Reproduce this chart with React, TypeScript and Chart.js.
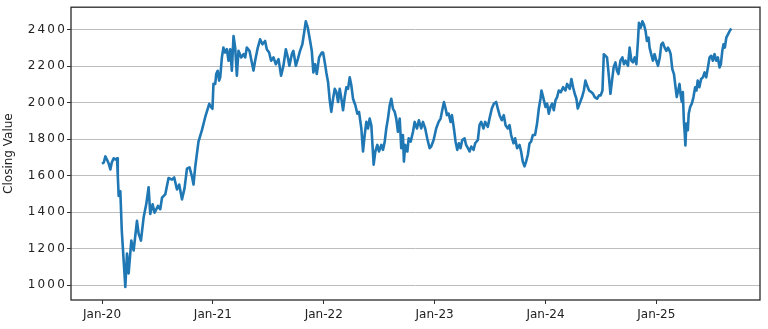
import React, { useEffect, useRef } from 'react';
import { Chart, registerables } from 'chart.js';

Chart.register(...registerables);

// Time position in years since 1 Jan 2020
const yearsSince2020 = [
  0.000, 0.016, 0.030, 0.044, 0.059, 0.075, 0.088, 0.105, 0.120, 0.135, 0.142, 0.150, 0.165, 0.178, 0.195, 0.210, 0.225, 0.240, 0.264, 0.285,
  0.315, 0.330, 0.351, 0.375, 0.399, 0.420, 0.435, 0.456, 0.474, 0.505, 0.525, 0.541, 0.570, 0.600, 0.631, 0.651, 0.676, 0.696, 0.721, 0.744,
  0.766, 0.789, 0.811, 0.825, 0.841, 0.870, 0.901, 0.931, 0.967, 0.984, 0.996,
  1.005, 1.021, 1.030, 1.043, 1.056, 1.066, 1.081, 1.095, 1.110, 1.126, 1.141, 1.156, 1.171, 1.186, 1.201, 1.216, 1.231, 1.255, 1.276, 1.291,
  1.306, 1.330, 1.351, 1.366, 1.381, 1.405, 1.426, 1.447, 1.471, 1.486, 1.507, 1.525, 1.546, 1.568, 1.592, 1.615, 1.636, 1.658, 1.676, 1.690,
  1.712, 1.726, 1.748, 1.766, 1.786, 1.807, 1.825, 1.838, 1.856, 1.877, 1.892, 1.906, 1.922, 1.937, 1.958, 1.982, 1.994,
  2.012, 2.023, 2.039, 2.054, 2.068, 2.084, 2.099, 2.114, 2.129, 2.144, 2.159, 2.174, 2.189, 2.204, 2.219, 2.234, 2.249, 2.264, 2.285, 2.303,
  2.318, 2.339, 2.354, 2.369, 2.384, 2.399, 2.414, 2.429, 2.450, 2.465, 2.483, 2.498, 2.519, 2.534, 2.550, 2.564, 2.579, 2.595, 2.609, 2.624,
  2.640, 2.654, 2.669, 2.685, 2.699, 2.714, 2.723, 2.735, 2.754, 2.766, 2.784, 2.805, 2.820, 2.841, 2.858, 2.879, 2.895, 2.915, 2.933, 2.955,
  2.969, 2.991,
  3.014, 3.036, 3.054, 3.066, 3.084, 3.099, 3.111, 3.126, 3.144, 3.156, 3.174, 3.189, 3.204, 3.219, 3.234, 3.249, 3.270, 3.284, 3.300, 3.315,
  3.330, 3.351, 3.366, 3.390, 3.405, 3.420, 3.441, 3.456, 3.480, 3.495, 3.516, 3.534, 3.555, 3.570, 3.586, 3.606, 3.624, 3.640, 3.660, 3.676,
  3.690, 3.712, 3.726, 3.744, 3.766, 3.780, 3.795, 3.811, 3.825, 3.841, 3.856, 3.870, 3.886, 3.906, 3.924, 3.940, 3.955, 3.964, 3.979,
  4.000, 4.015, 4.030, 4.045, 4.060, 4.075, 4.090, 4.105, 4.120, 4.138, 4.159, 4.180, 4.195, 4.219, 4.234, 4.249, 4.264, 4.279, 4.291, 4.308,
  4.330, 4.346, 4.360, 4.375, 4.393, 4.414, 4.429, 4.444, 4.465, 4.483, 4.498, 4.514, 4.526, 4.541, 4.555, 4.570, 4.586, 4.600, 4.615, 4.631,
  4.645, 4.658, 4.676, 4.694, 4.708, 4.723, 4.744, 4.759, 4.775, 4.789, 4.805, 4.820, 4.834, 4.843, 4.859, 4.874, 4.888, 4.903, 4.915, 4.930,
  4.939, 4.954, 4.969, 4.984,
  5.000, 5.015, 5.031, 5.045, 5.059, 5.075, 5.090, 5.105, 5.120, 5.129, 5.144, 5.159, 5.173, 5.184, 5.197, 5.209, 5.218, 5.230, 5.239, 5.248,
  5.256, 5.262, 5.271, 5.284, 5.292, 5.305, 5.320, 5.335, 5.350, 5.362, 5.373, 5.388, 5.404, 5.420, 5.435, 5.450, 5.465, 5.480, 5.495, 5.510,
  5.525, 5.540, 5.555, 5.570, 5.582, 5.595, 5.606, 5.618, 5.631, 5.646, 5.661, 5.676,
];

const closingValues = [
  1665, 1672, 1705, 1688, 1668, 1634, 1672, 1695, 1688, 1695, 1600, 1488, 1515, 1300, 1135, 990, 1173, 1065, 1244, 1190,
  1352, 1282, 1244, 1370, 1444, 1536, 1390, 1443, 1397, 1434, 1416, 1479, 1497, 1587, 1578, 1590, 1524, 1551, 1470, 1530,
  1638, 1645, 1596, 1551, 1650, 1786, 1849, 1921, 1993, 1975, 1966,
  2102, 2102, 2156, 2174, 2120, 2138, 2247, 2301, 2274, 2292, 2229, 2292, 2175, 2364, 2301, 2147, 2283, 2247, 2265, 2247,
  2301, 2283, 2219, 2175, 2229, 2301, 2346, 2319, 2337, 2292, 2274, 2229, 2247, 2210, 2238, 2147, 2201, 2292, 2247, 2201,
  2265, 2283, 2201, 2238, 2283, 2319, 2391, 2445, 2410, 2337, 2283, 2165, 2210, 2156, 2247, 2274, 2274,
  2210, 2165, 2111, 2012, 1949, 2021, 2075, 2057, 2003, 2075, 2021, 1958, 2030, 2084, 2075, 2138, 2093, 2021, 1985, 1939,
  1949, 1858, 1732, 1822, 1894, 1858, 1912, 1876, 1660, 1732, 1768, 1732, 1768, 1741, 1786, 1858, 1912, 1985, 2021, 1967,
  1949, 1912, 1840, 1912, 1750, 1822, 1677, 1768, 1732, 1804, 1786, 1840, 1894, 1858, 1903, 1858, 1894, 1858, 1804, 1750,
  1759, 1795,
  1858, 1894, 1912, 1949, 2003, 1967, 1931, 1940, 1894, 1931, 1858, 1786, 1741, 1777, 1750, 1795, 1804, 1768, 1750, 1732,
  1759, 1741, 1777, 1795, 1876, 1894, 1858, 1894, 1867, 1912, 1967, 1993, 2003, 1967, 1931, 1903, 1931, 1876, 1858, 1876,
  1822, 1777, 1804, 1750, 1768, 1732, 1677, 1651, 1677, 1714, 1777, 1786, 1822, 1822, 1885, 1967, 2021, 2066, 2030,
  1976, 1994, 1939, 1976, 1994, 1958, 2012, 2030, 2066, 2057, 2084, 2066, 2102, 2075, 2129, 2084, 2048, 2021, 1967, 1994,
  2030, 2066, 2120, 2093, 2066, 2057, 2048, 2030, 2021, 2039, 2039, 2066, 2264, 2256, 2247, 2156, 2048, 2120, 2193, 2220,
  2174, 2156, 2229, 2247, 2210, 2229, 2201, 2301, 2229, 2220, 2247, 2210, 2337, 2436, 2410, 2445, 2427, 2391, 2337, 2355,
  2301, 2264, 2229, 2265,
  2229, 2201, 2247, 2319, 2328, 2301, 2283, 2301, 2283, 2265, 2183, 2156, 2084, 2030, 2066, 2102, 2048, 2003, 2057, 1903,
  1831, 1765, 1885, 1849, 1939, 1976, 1994, 2030, 2084, 2066, 2120, 2084, 2129, 2138, 2165, 2138, 2192, 2247, 2256, 2229,
  2265, 2229, 2247, 2192, 2210, 2283, 2319, 2301, 2355, 2373, 2391, 2405,
];

const xTickPositions = [0, 1, 2, 3, 4, 5];
const xTickLabels = ['Jan-20', 'Jan-21', 'Jan-22', 'Jan-23', 'Jan-24', 'Jan-25'];
const yTickValues = [1000, 1200, 1400, 1600, 1800, 2000, 2200, 2400];
const yAxisTitle = 'Closing Value';

const FONT = 'DejaVu Sans';

export default function App() {
  const canvasRef = useRef<HTMLCanvasElement>(null);

  useEffect(() => {
    document.body.style.margin = '0';
    const canvas = canvasRef.current;
    if (!canvas) return;

    const boxPlugin = {
      id: 'axesBox',
      afterDraw(chart: any) {
        const { ctx, chartArea } = chart;
        ctx.save();
        ctx.strokeStyle = '#2a2a2a';
        ctx.lineWidth = 1.3;
        ctx.strokeRect(chartArea.left, chartArea.top, chartArea.right - chartArea.left, chartArea.bottom - chartArea.top);
        ctx.restore();
      },
    };

    const chart = new Chart(canvas, {
      type: 'line',
      data: {
        datasets: [
          {
            data: yearsSince2020.map((t, i) => ({ x: t, y: closingValues[i] })),
            borderColor: '#1f77b4',
            borderWidth: 2.6,
            pointRadius: 0,
            tension: 0,
            fill: false,
            borderJoinStyle: 'round',
          },
        ],
      },
      options: {
        animation: false,
        responsive: false,
        maintainAspectRatio: false,
        layout: { padding: { left: 0, top: 4, right: 8, bottom: 0 } },
        plugins: { legend: { display: false }, tooltip: { enabled: false } },
        scales: {
          x: {
            type: 'linear',
            min: -0.28,
            max: 5.935,
            afterBuildTicks: (s: any) => {
              s.ticks = xTickPositions.map((v) => ({ value: v }));
            },
            afterFit: (s: any) => {
              s.height = 29;
            },
            grid: { drawOnChartArea: false, tickLength: 4, tickColor: '#333', color: '#333' },
            border: { display: false },
            ticks: {
              callback: (_v: any, i: number) => xTickLabels[i],
              font: { family: FONT, size: 12 },
              color: '#222',
              padding: 4,
              autoSkip: false,
              maxRotation: 0,
            },
          },
          y: {
            type: 'linear',
            min: 919,
            max: 2522,
            afterBuildTicks: (s: any) => {
              s.ticks = yTickValues.map((v) => ({ value: v }));
            },
            afterFit: (s: any) => {
              s.width = 71;
              if (!s.__spaced) {
                s.__spaced = true;
                const orig = s.drawLabels.bind(s);
                s.drawLabels = (area: any) => {
                  const c = s.ctx;
                  c.save();
                  try {
                    (c as any).letterSpacing = '2.2px';
                  } catch (e) {}
                  orig(area);
                  c.restore();
                };
              }
            },
            grid: { color: '#bdbdbd', lineWidth: 1, tickLength: 4, tickColor: '#333' },
            border: { display: false },
            ticks: {
              callback: (v: any) => String(v),
              font: { family: FONT, size: 12 },
              color: '#222',
              padding: 0,
            },
            title: {
              display: true,
              text: yAxisTitle,
              font: { family: FONT, size: 12 },
              color: '#222',
              padding: { top: 2, bottom: 0 },
            },
          },
        },
      },
      plugins: [boxPlugin],
    } as any);

    return () => chart.destroy();
  }, []);

  return (
    <div style={{ position: 'absolute', left: 0, top: 0, width: 768, height: 329 }}>
      <canvas ref={canvasRef} width={768} height={329} style={{ display: 'block', width: 768, height: 329 }} />
    </div>
  );
}
